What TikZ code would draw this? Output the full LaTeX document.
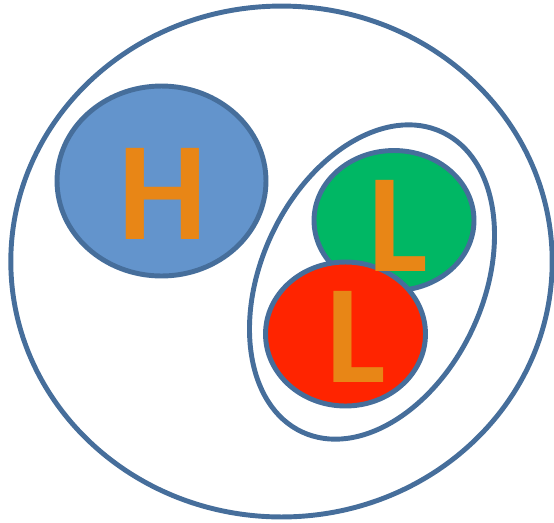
\documentclass[tikz,border=0pt]{standalone}
\usepackage{fontspec}
\usepackage{tikz}
\usetikzlibrary{positioning,shapes.geometric}
\newfontfamily\letterfont{Carlito}
\definecolor{hlEdge}{RGB}{70,110,155}
\definecolor{hlBlue}{RGB}{99,148,204}
\definecolor{hlGreen}{RGB}{0,183,100}
\definecolor{hlRed}{RGB}{255,36,0}
\definecolor{hlOrange}{RGB}{232,134,22}

\begin{document}
\begin{tikzpicture}[
    x=0.02cm, y=-0.02cm,
    blob node/.style={ellipse, draw=hlEdge, line width=2.8pt, inner sep=0pt},
    letter node/.style={inner sep=0pt, text=hlOrange, font=\letterfont\bfseries\fontsize{80}{80}\selectfont}
]
  \useasboundingbox (0,0) rectangle (554,522);

  \node[blob node, minimum width=10.83cm, minimum height=10.22cm] (whole) at (281.5,261.5) {};
  \node[blob node, minimum width=6.62cm, minimum height=4.44cm, rotate=65] (pair) at (372,282) {};

  \node[blob node, fill=hlBlue, minimum width=4.18cm, minimum height=3.8cm] (heavy) at (161.5,181) {};
  \node[blob node, fill=hlGreen, minimum width=3.2cm, minimum height=2.8cm] (lightA) at (394,220.5) {};
  \node[blob node, fill=hlRed, minimum width=3.2cm, minimum height=2.88cm] (lightB) at (345.5,334) {};

  \node[letter node] (hLabel) at (162.5,194) {H};
  \node[letter node] (lLabelA) at (398,226) {L};
  \node[letter node] (lLabelB) at (356.5,337) {L};
\end{tikzpicture}
\end{document}
